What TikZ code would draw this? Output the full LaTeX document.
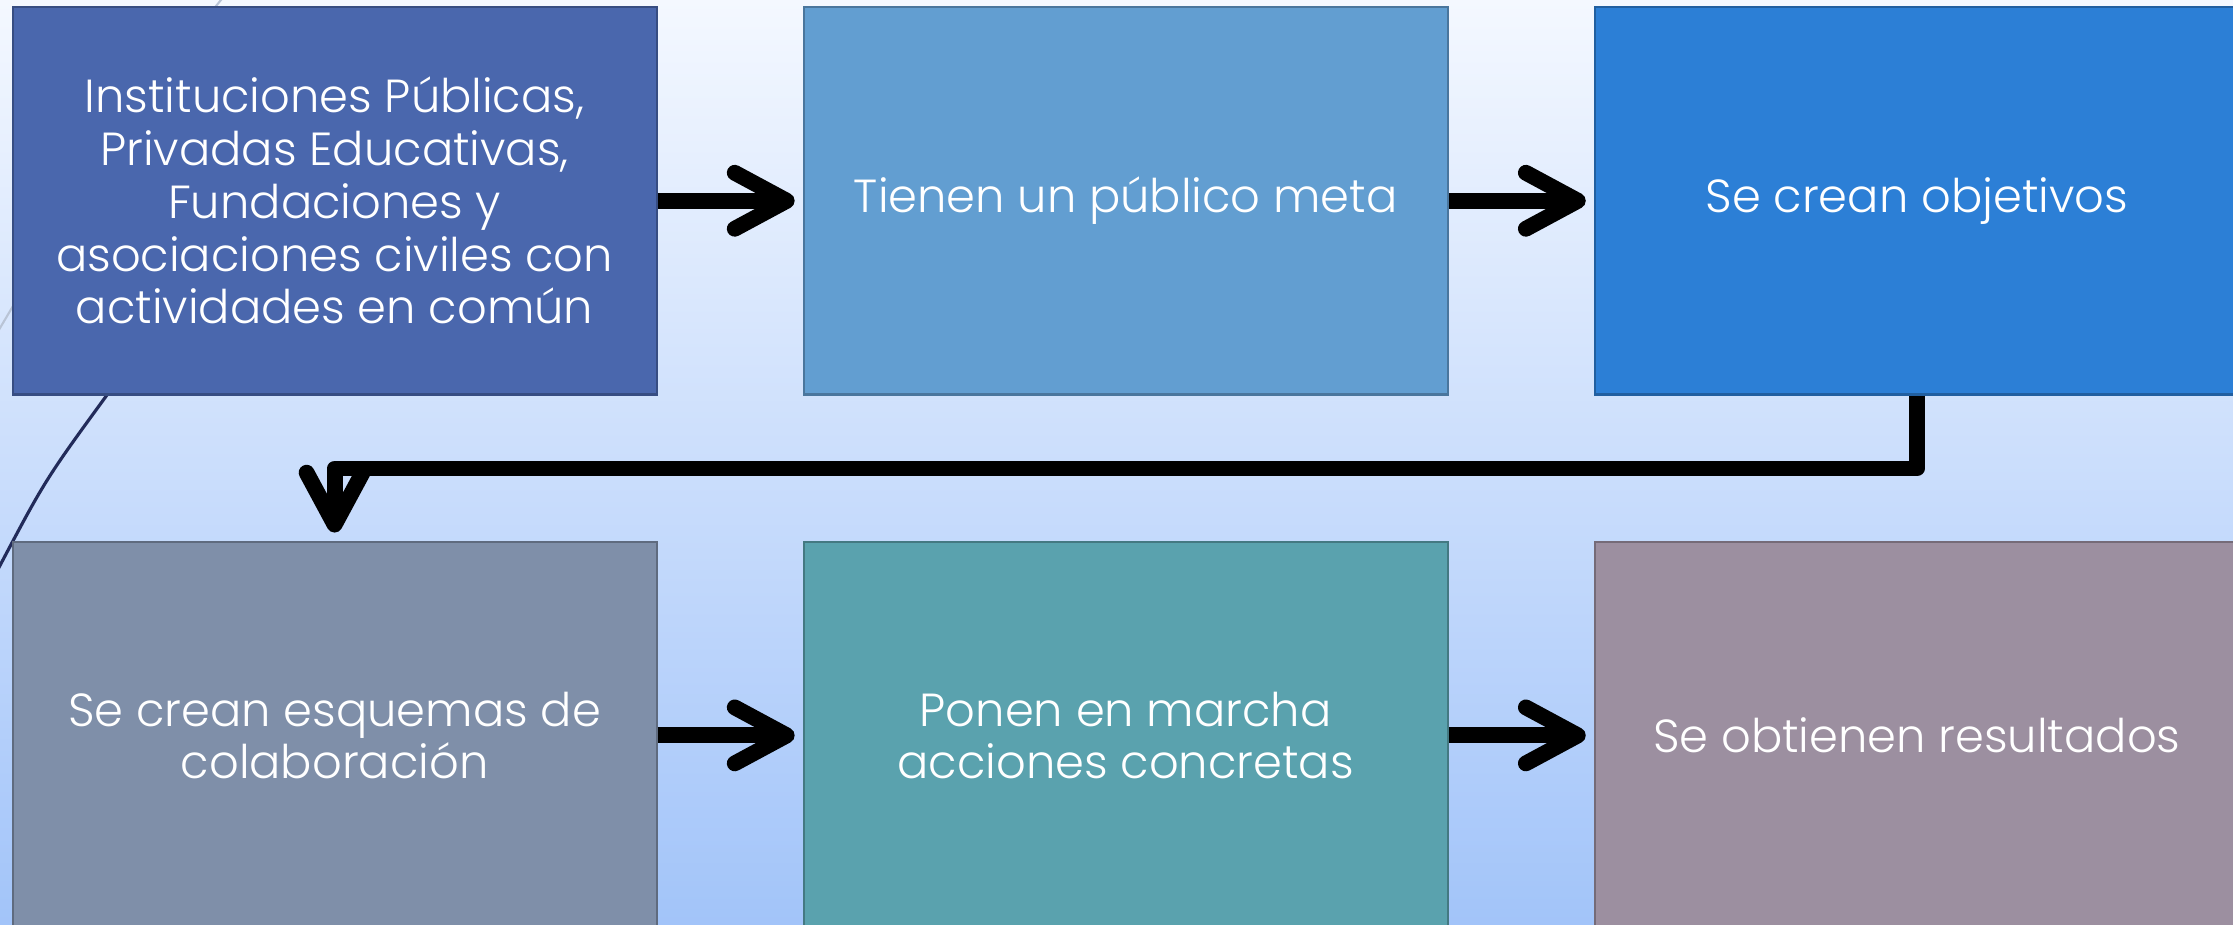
\documentclass[tikz,border=0pt]{standalone}
\usepackage{fontspec}
\setmainfont{Poppins Light}
\usepackage{xcolor}
\usetikzlibrary{arrows.meta,positioning}

\definecolor{bgtop}{HTML}{F4F8FF}
\definecolor{bgbot}{HTML}{A2C4F9}
\definecolor{instc}{HTML}{4A67AD}
\definecolor{metac}{HTML}{629ED1}
\definecolor{objc}{HTML}{2C7FD6}
\definecolor{esqc}{HTML}{7F8FA9}
\definecolor{accc}{HTML}{5AA2AE}
\definecolor{resc}{HTML}{9C8FA0}
\definecolor{wispdark}{HTML}{222B5A}
\definecolor{wisplight}{HTML}{B9C4D6}

\begin{document}
\begin{tikzpicture}[
    node distance=1.45cm,
    box/.style={rectangle, draw=#1!75!black, fill=#1, line width=0.6pt, minimum width=6.44cm, minimum height=3.875cm, inner sep=0pt, align=center, text=white, font=\fontsize{13.2}{15}\selectfont},
    arrow/.style={-{Straight Barb[length=5.2mm, width=5.6mm, line cap=round, line join=round]}, line width=4.5pt, line join=round, shorten >=0.8mm}
]
    \useasboundingbox (0,0) rectangle (22.33,9.25);
    \clip (0,0) rectangle (22.33,9.25);
    \shade[top color=bgtop, bottom color=bgbot] (0,0) rectangle (22.33,9.25);

    % wisp lines behind the boxes
    \draw[wisplight, line width=0.6pt] (2.25,9.3) .. controls (1.2,8.0) .. (-0.1,5.8);
    \draw[wispdark, line width=0.9pt] (-0.05,3.5) .. controls (0.45,4.45) .. (1.07,5.30) -- (2.0,6.6);

    \node[box=instc] (inst) at (3.346,7.242) {Instituciones Públicas,\\Privadas Educativas,\\Fundaciones y\\asociaciones civiles con\\actividades en común};
    \node[box=metac, right=of inst] (meta) {Tienen un público meta};
    \node[box=objc, right=of meta] (obj) {Se crean objetivos};
    \node[box=esqc, below=of inst] (esq) {Se crean esquemas de\\colaboración};
    \node[box=accc, right=of esq] (acc) {Ponen en marcha\\acciones concretas};
    \node[box=resc, right=of acc] (res) {Se obtienen resultados};

    \draw[arrow] (inst) -- (meta);
    \draw[arrow] (meta) -- (obj);
    \draw[arrow] (obj.south) -- ++(0,-0.73) -| (esq.north);
    \draw[arrow] (esq) -- (acc);
    \draw[arrow] (acc) -- (res);
\end{tikzpicture}
\end{document}
